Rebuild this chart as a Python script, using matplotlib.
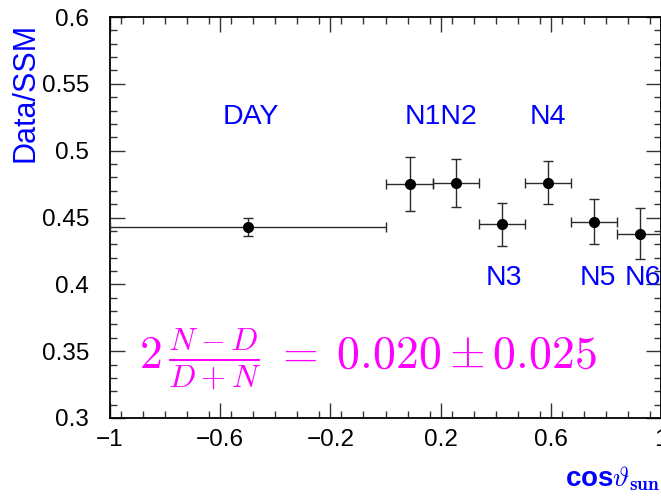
import matplotlib
matplotlib.use("Agg")
import matplotlib.pyplot as plt
from matplotlib.ticker import MultipleLocator, FixedLocator, FixedFormatter

# Data/SSM ratio per zenith-angle bin
bin_names = ["DAY", "N1", "N2", "N3", "N4", "N5", "N6"]
cos_center = [-0.50, 0.088, 0.256, 0.422, 0.589, 0.755, 0.922]
bin_low = [-1.00, 0.000, 0.172, 0.339, 0.505, 0.673, 0.840]
bin_high = [0.00, 0.172, 0.339, 0.505, 0.673, 0.840, 1.000]
ratio = [0.443, 0.475, 0.476, 0.445, 0.476, 0.447, 0.438]
ratio_err = [0.007, 0.020, 0.018, 0.016, 0.016, 0.017, 0.019]

x_major = [-1.0, -0.6, -0.2, 0.2, 0.6, 1.0]
x_major_labels = ["\u22121", "\u22120.6", "\u22120.2", "0.2", "0.6", "1"]
y_major = [0.3, 0.35, 0.4, 0.45, 0.5, 0.55, 0.6]
y_major_labels = ["0.3", "0.35", "0.4", "0.45", "0.5", "0.55", "0.6"]

# label text and placement in data coordinates
label_text = ["DAY", "N1N2", "N4", "N3", "N5", "N6"]
label_x = [-0.49, 0.20, 0.59, 0.43, 0.77, 0.935]
label_y = [0.525, 0.525, 0.525, 0.405, 0.405, 0.405]

plt.rcParams["font.family"] = ["Liberation Sans", "DejaVu Sans"]
plt.rcParams["mathtext.fontset"] = "cm"

fig = plt.figure(figsize=(6.61, 4.97), dpi=100)
ax = fig.add_axes([110 / 661, 79 / 497, 551 / 661, 401 / 497])

xerr_lo = [c - l for c, l in zip(cos_center, bin_low)]
xerr_hi = [h - c for c, h in zip(cos_center, bin_high)]
ax.errorbar(cos_center, ratio, xerr=[xerr_lo, xerr_hi], yerr=ratio_err,
            fmt="o", color="black", ecolor="#2a2a2a", elinewidth=1.0,
            capsize=3.3, capthick=1.0, markersize=7, zorder=3, clip_on=True)

for t, x, y in zip(label_text, label_x, label_y):
    ax.text(x, y, t, color="#0000ff", fontsize=20.5, ha="center", va="center")

ax.text(-0.895, 0.3435,
        r"$2\,\frac{N-D}{D+N}\;=\;0.020\pm0.025$",
        color="#ff00ff", fontsize=33, ha="left", va="center")

ax.set_xlim(-1.0, 1.0)
ax.set_ylim(0.3, 0.6)

ax.xaxis.set_major_locator(FixedLocator(x_major))
ax.xaxis.set_major_formatter(FixedFormatter(x_major_labels))
ax.xaxis.set_minor_locator(MultipleLocator(0.08))
ax.yaxis.set_major_locator(FixedLocator(y_major))
ax.yaxis.set_major_formatter(FixedFormatter(y_major_labels))
ax.yaxis.set_minor_locator(MultipleLocator(0.01))

ax.tick_params(which="both", direction="in", top=True, right=True,
               labelsize=17.5, color="#333333", width=1.0)
ax.tick_params(which="major", length=11)
ax.tick_params(which="minor", length=5)
ax.tick_params(axis="y", which="major", pad=15)
ax.tick_params(axis="x", which="major", pad=8)

for s in ax.spines.values():
    s.set_linewidth(1.3)
    s.set_color("black")

fig.text(25 / 661, 1 - 92 / 497, "Data/SSM", rotation=90, color="#0000ff",
         fontsize=22, ha="center", va="center")
fig.text(660 / 661, 1 - 479 / 497, r"cos$\mathbf{\vartheta}_{\mathbf{sun}}$",
         color="#0000ff", fontsize=20, fontweight="bold",
         ha="right", va="center")

fig.savefig("out.png", dpi=100)
